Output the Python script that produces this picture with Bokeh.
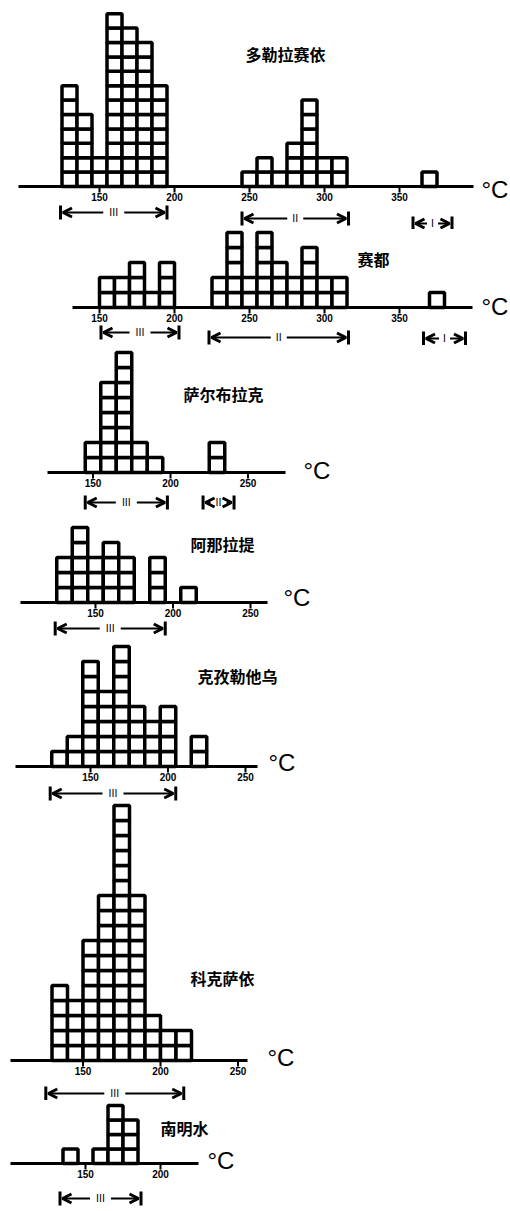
from bokeh.plotting import figure
from bokeh.layouts import column
from bokeh.models import ColumnDataSource, Arrow, OpenHead, Range1d
from bokeh.core.properties import value
from bokeh.embed import file_html
from bokeh.resources import INLINE

# ---------------- data (temperature bins of 10 °C, counts of measurements) ----------------
BIN = 10
titles = ["多勒拉赛依", "赛都", "萨尔布拉克", "阿那拉提", "克孜勒他乌", "科克萨依", "南明水"]

p1_bins = [125, 135, 145, 155, 165, 175, 185, 245, 255, 265, 275, 285, 295, 305, 365]
p1_counts = [7, 5, 2, 12, 11, 10, 7, 1, 2, 1, 3, 6, 2, 2, 1]
p2_bins = [150, 160, 170, 180, 190, 225, 235, 245, 255, 265, 275, 285, 295, 305, 370]
p2_counts = [2, 2, 3, 1, 3, 2, 5, 2, 5, 3, 2, 4, 2, 2, 1]
p3_bins = [145, 155, 165, 175, 185, 225]
p3_counts = [2, 6, 8, 2, 1, 2]
p4_bins = [125, 135, 145, 155, 165, 185, 205]
p4_counts = [3, 5, 3, 4, 3, 3, 1]
p5_bins = [125, 135, 145, 155, 165, 175, 185, 195, 215]
p5_counts = [1, 2, 7, 5, 8, 4, 3, 4, 2]
p6_bins = [130, 140, 150, 160, 170, 180, 190, 200, 210]
p6_counts = [5, 4, 8, 11, 17, 11, 3, 2, 2]
p7_bins = [135, 155, 165, 175]
p7_counts = [1, 1, 4, 3]

p1_ticks = [150, 200, 250, 300, 350]
p2_ticks = [150, 200, 250, 300, 350]
p3_ticks = [150, 200, 250]
p4_ticks = [150, 200, 250]
p5_ticks = [150, 200, 250]
p6_ticks = [150, 200, 250]
p7_ticks = [150, 200]

# stage intervals: label, start °C, end °C
p1_stages = [("III", 124, 195), ("II", 245, 316), ("I", 359, 385)]
p2_stages = [("III", 151, 203), ("II", 223, 316), ("I", 366, 394)]
p3_stages = [("III", 145, 198), ("II", 221, 241)]
p4_stages = [("III", 124, 195)]
p5_stages = [("III", 124, 205)]
p6_stages = [("III", 126, 215)]
p7_stages = [("III", 133, 187)]

panels = [
    (p1_bins, p1_counts, p1_ticks, p1_stages),
    (p2_bins, p2_counts, p2_ticks, p2_stages),
    (p3_bins, p3_counts, p3_ticks, p3_stages),
    (p4_bins, p4_counts, p4_ticks, p4_stages),
    (p5_bins, p5_counts, p5_ticks, p5_stages),
    (p6_bins, p6_counts, p6_ticks, p6_stages),
    (p7_bins, p7_counts, p7_ticks, p7_stages),
]

# ---------------- layout (page pixels) ----------------
W = 510
# height, axis_y, cell_px, a, k, axis_x0, axis_x1, degC_x, degC_y, title_x, title_y, stage offsets
layout = [
    (229, 186, 14.4, -126, 1.5, 18, 473, 481, 189, 245, 53, [26, 32, 37]),
    (116, 307, 15.0, -126, 1.5, 72, 472, 481, 306, 357, 258, [25, 30, 31]),
    (170, 472, 15.0, -140, 1.55, 47, 285, 303, 470, 183, 393, [30, 30]),
    (125, 602, 15.0, -137.5, 1.55, 20, 267, 283, 597, 190, 543, [26]),
    (161, 766, 15.0, -142.5, 1.55, 15, 257, 268, 762, 197, 675, [27]),
    (299, 1060, 15.0, -150, 1.55, 10, 247, 267, 1057, 190, 977, [33]),
    (111, 1163, 14.5, -140, 1.5, 10, 198, 207, 1160, 160, 1127, [35]),
]

figs = []
top = 0
for (bins, counts, ticks, stages), title, lay in zip(panels, titles, layout):
    H, ay, c, a, k, ax0, ax1, dx, dy, tx, ty, soff = lay
    X = lambda px: (px - a) / k
    Y = lambda py: (ay - py) / c
    p = figure(width=W, height=H, output_backend="svg", toolbar_location=None,
               x_range=Range1d(X(0), X(W)), y_range=Range1d(Y(top + H), Y(top)),
               x_axis_location=None, y_axis_location=None, min_border=0,
               outline_line_color=None, background_fill_color="white",
               border_fill_color="white")
    p.grid.visible = False

    # histogram cells
    left, bottom = [], []
    for b, n in zip(bins, counts):
        for j in range(n):
            left.append(b)
            bottom.append(j)
    src = ColumnDataSource(dict(left=left, right=[v + BIN for v in left],
                                bottom=bottom, top=[v + 1 for v in bottom]))
    p.quad(left="left", right="right", bottom="bottom", top="top", source=src,
           fill_color="white", line_color="black", line_width=3.5)

    # baseline axis
    p.segment(x0=[X(ax0)], y0=[0], x1=[X(ax1)], y1=[0], line_color="black", line_width=3)
    # ticks and tick labels
    p.segment(x0=ticks, y0=[0] * len(ticks), x1=ticks, y1=[-6 / c] * len(ticks),
              line_color="black", line_width=2)
    p.text(x=ticks, y=[-6 / c] * len(ticks), text=[str(t) for t in ticks],
           text_align="center", text_baseline="top", text_font_size="10px",
           text_font_style="bold", text_font=value("Liberation Sans"),
           text_color="black")
    # °C
    p.text(x=[X(dx)], y=[Y(dy)], text=["°C"], text_align="left", text_baseline="middle",
           text_font_size="24px", text_font=value("Liberation Sans"), text_color="black")
    # title
    p.text(x=[X(tx)], y=[Y(ty)], text=[title], text_align="left", text_baseline="middle",
           text_font_size="16px", text_font_style="bold",
           text_font=value("Noto Sans CJK SC"), text_color="black")

    # stage intervals
    xs, ys, xe, ye = [], [], [], []
    for (lab, s, e), off in zip(stages, soff):
        yy = -off / c
        p.segment(x0=[s, e], y0=[yy - 7 / c] * 2, x1=[s, e], y1=[yy + 7 / c] * 2,
                  line_color="black", line_width=3)
        mid = (s + e) / 2
        p.text(x=[mid], y=[yy], text=[lab], text_align="center", text_baseline="middle",
               text_font_size="10px", text_font=value("DejaVu Sans"),
               text_color="black")
        gap = (3 + 2.5 * len(lab)) / k
        xs += [mid - gap, mid + gap]
        xe += [s + 2.5 / k, e - 2.5 / k]
        ys += [yy, yy]
        ye += [yy, yy]
    asrc = ColumnDataSource(dict(xs=xs, ys=ys, xe=xe, ye=ye))
    p.add_layout(Arrow(end=OpenHead(size=9, line_width=3, line_color="black"),
                       x_start="xs", y_start="ys", x_end="xe", y_end="ye",
                       source=asrc, line_width=2, line_color="black"))
    figs.append(p)
    top += H

lay = column(*figs, spacing=0)
open("out.html", "w").write(file_html(lay, INLINE))
